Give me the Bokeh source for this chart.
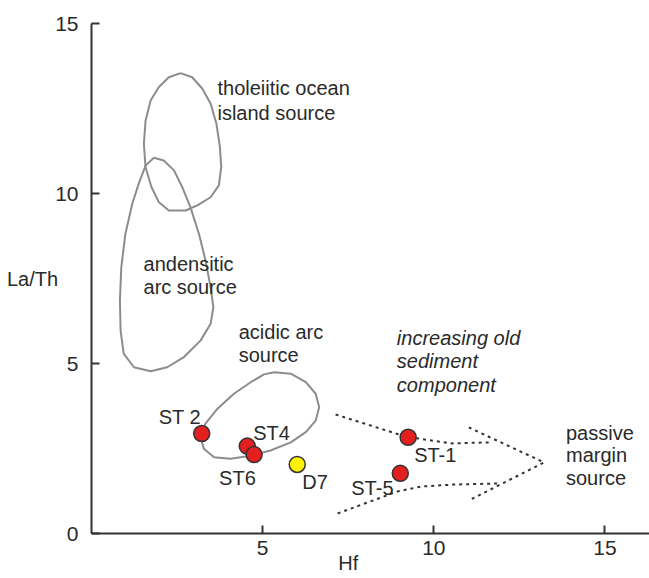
from bokeh.plotting import figure
from bokeh.models import Range1d, FixedTicker, Label
from bokeh.embed import file_html
from bokeh.resources import INLINE

# ---- data ----
names = ["ST 2", "ST4", "ST6", "D7", "ST-1", "ST-5"]
hf = [3.22, 4.55, 4.75, 6.01, 9.25, 9.02]
la_th = [2.94, 2.57, 2.32, 2.03, 2.83, 1.77]
colors = ["#e3201f", "#e3201f", "#e3201f", "#fff200", "#e3201f", "#e3201f"]

tholeiitic_hf = [2.60, 2.94, 3.24, 3.48, 3.65, 3.75, 3.79, 3.72, 3.48, 3.09, 2.75, 2.26, 1.97,
                 1.75, 1.58, 1.53, 1.58, 1.73, 1.97, 2.26, 2.60]
tholeiitic_lath = [13.54, 13.42, 13.08, 12.64, 12.05, 11.37, 10.78, 10.24, 9.89, 9.65, 9.50, 9.50, 9.74,
                   10.19, 10.77, 11.46, 12.15, 12.74, 13.13, 13.42, 13.54]

andesitic_hf = [1.82, 2.11, 2.41, 2.65, 2.89, 3.14, 3.33, 3.48, 3.56, 3.48, 3.19, 2.70, 2.21, 1.73,
                1.24, 0.94, 0.85, 0.83, 0.87, 0.99, 1.19, 1.38, 1.58, 1.82]
andesitic_lath = [11.05, 10.97, 10.68, 10.19, 9.60, 8.81, 8.03, 7.24, 6.66, 6.17, 5.68, 5.19, 4.89, 4.77,
                  4.89, 5.29, 5.97, 6.85, 7.83, 8.81, 9.70, 10.29, 10.82, 11.05]

acidic_hf = [5.33, 5.82, 6.26, 6.55, 6.65, 6.55, 6.26, 5.82, 5.23, 4.65, 4.06, 3.58, 3.28, 3.19,
             3.33, 3.68, 4.16, 4.65, 5.04, 5.33]
acidic_lath = [4.74, 4.70, 4.45, 4.11, 3.71, 3.32, 2.98, 2.68, 2.44, 2.29, 2.20, 2.24, 2.49, 2.83,
               3.23, 3.67, 4.11, 4.45, 4.68, 4.74]

shaft_top_hf = [7.13, 9.18, 10.50, 11.67]
shaft_top_lath = [3.50, 2.85, 2.65, 2.68]
shaft_bot_hf = [7.19, 8.95, 9.62, 10.58, 11.87]
shaft_bot_lath = [0.59, 1.24, 1.38, 1.44, 1.47]
head_hf = [11.02, 13.22, 11.02]
head_lath = [3.12, 2.09, 0.97]

x_ticks = [5, 10, 15]
y_ticks = [0, 5, 10, 15]

FONT = "Liberation Sans"
TXT = "#2a2a2a"

p = figure(width=649, height=578, output_backend="svg", toolbar_location=None,
           x_range=Range1d(0, 16.3), y_range=Range1d(0, 15),
           min_border_left=91, min_border_right=0, min_border_top=23, min_border_bottom=45)
p.grid.visible = False
p.outline_line_color = None
p.background_fill_color = "white"

for ax, ticks, standoff in ((p.xaxis[0], x_ticks, 7), (p.yaxis[0], y_ticks, 13)):
    ax.ticker = FixedTicker(ticks=ticks)
    ax.minor_tick_line_color = None
    ax.major_tick_in = 8
    ax.major_tick_out = 0
    ax.major_tick_line_width = 2
    ax.major_tick_line_color = "#333333"
    ax.axis_line_width = 2
    ax.axis_line_color = "#333333"
    ax.major_label_text_font = FONT
    ax.major_label_text_font_size = "21px"
    ax.major_label_text_color = TXT
    ax.major_label_standoff = standoff
    ax.axis_label_text_font = FONT
    ax.axis_label_text_font_size = "20px"
    ax.axis_label_text_font_style = "normal"
    ax.axis_label_text_color = TXT

p.yaxis[0].axis_label = "La/Th"
p.yaxis[0].axis_label_orientation = "horizontal"
p.yaxis[0].axis_label_standoff = -6
p.xaxis[0].axis_label = "Hf" + "\u00a0" * 8
p.xaxis[0].axis_label_standoff = -6

# source fields
for xs, ys in ((tholeiitic_hf, tholeiitic_lath), (andesitic_hf, andesitic_lath), (acidic_hf, acidic_lath)):
    p.line(xs, ys, line_color="#8c8c8c", line_width=2, line_join="round")

# dotted arrow
for xs, ys in ((shaft_top_hf, shaft_top_lath), (shaft_bot_hf, shaft_bot_lath), (head_hf, head_lath)):
    p.line(xs, ys, line_color="#333333", line_width=2, line_dash="3 4")

p.scatter(hf, la_th, size=16, fill_color=colors, line_color="#333333", line_width=1.5)

# point labels (pixel offsets from each point)
offsets = {"ST 2": (-43, 17), "ST4": (6, 13), "ST6": (-35, -23), "D7": (5, -18),
           "ST-1": (6, -18), "ST-5": (-49, -15)}
for n, xv, yv in zip(names, hf, la_th):
    dx, dy = offsets[n]
    p.add_layout(Label(x=xv, y=yv, x_offset=dx, y_offset=dy, text=n, text_font=FONT,
                       text_font_size="20px", text_color=TXT, text_baseline="middle"))

def txt(x, y, s, style="normal", align="left"):
    p.add_layout(Label(x=x, y=y, text=s, text_font=FONT, text_font_size="20px",
                       text_color=TXT, text_baseline="middle", text_align=align,
                       text_font_style=style))

txt(3.68, 13.09, "tholeiitic ocean")
txt(3.68, 12.38, "island source")
txt(1.52, 7.94, "andensitic")
txt(1.52, 7.24, "arc source")
txt(4.30, 5.94, "acidic arc")
txt(4.30, 5.26, "source")
txt(8.92, 5.76, "increasing old", "italic")
txt(8.92, 5.06, "sediment", "italic")
txt(8.92, 4.38, "component", "italic")
txt(13.86, 2.97, "passive")
txt(13.86, 2.32, "margin")
txt(13.86, 1.62, "source")

open("out.html", "w").write(file_html(p, INLINE))
